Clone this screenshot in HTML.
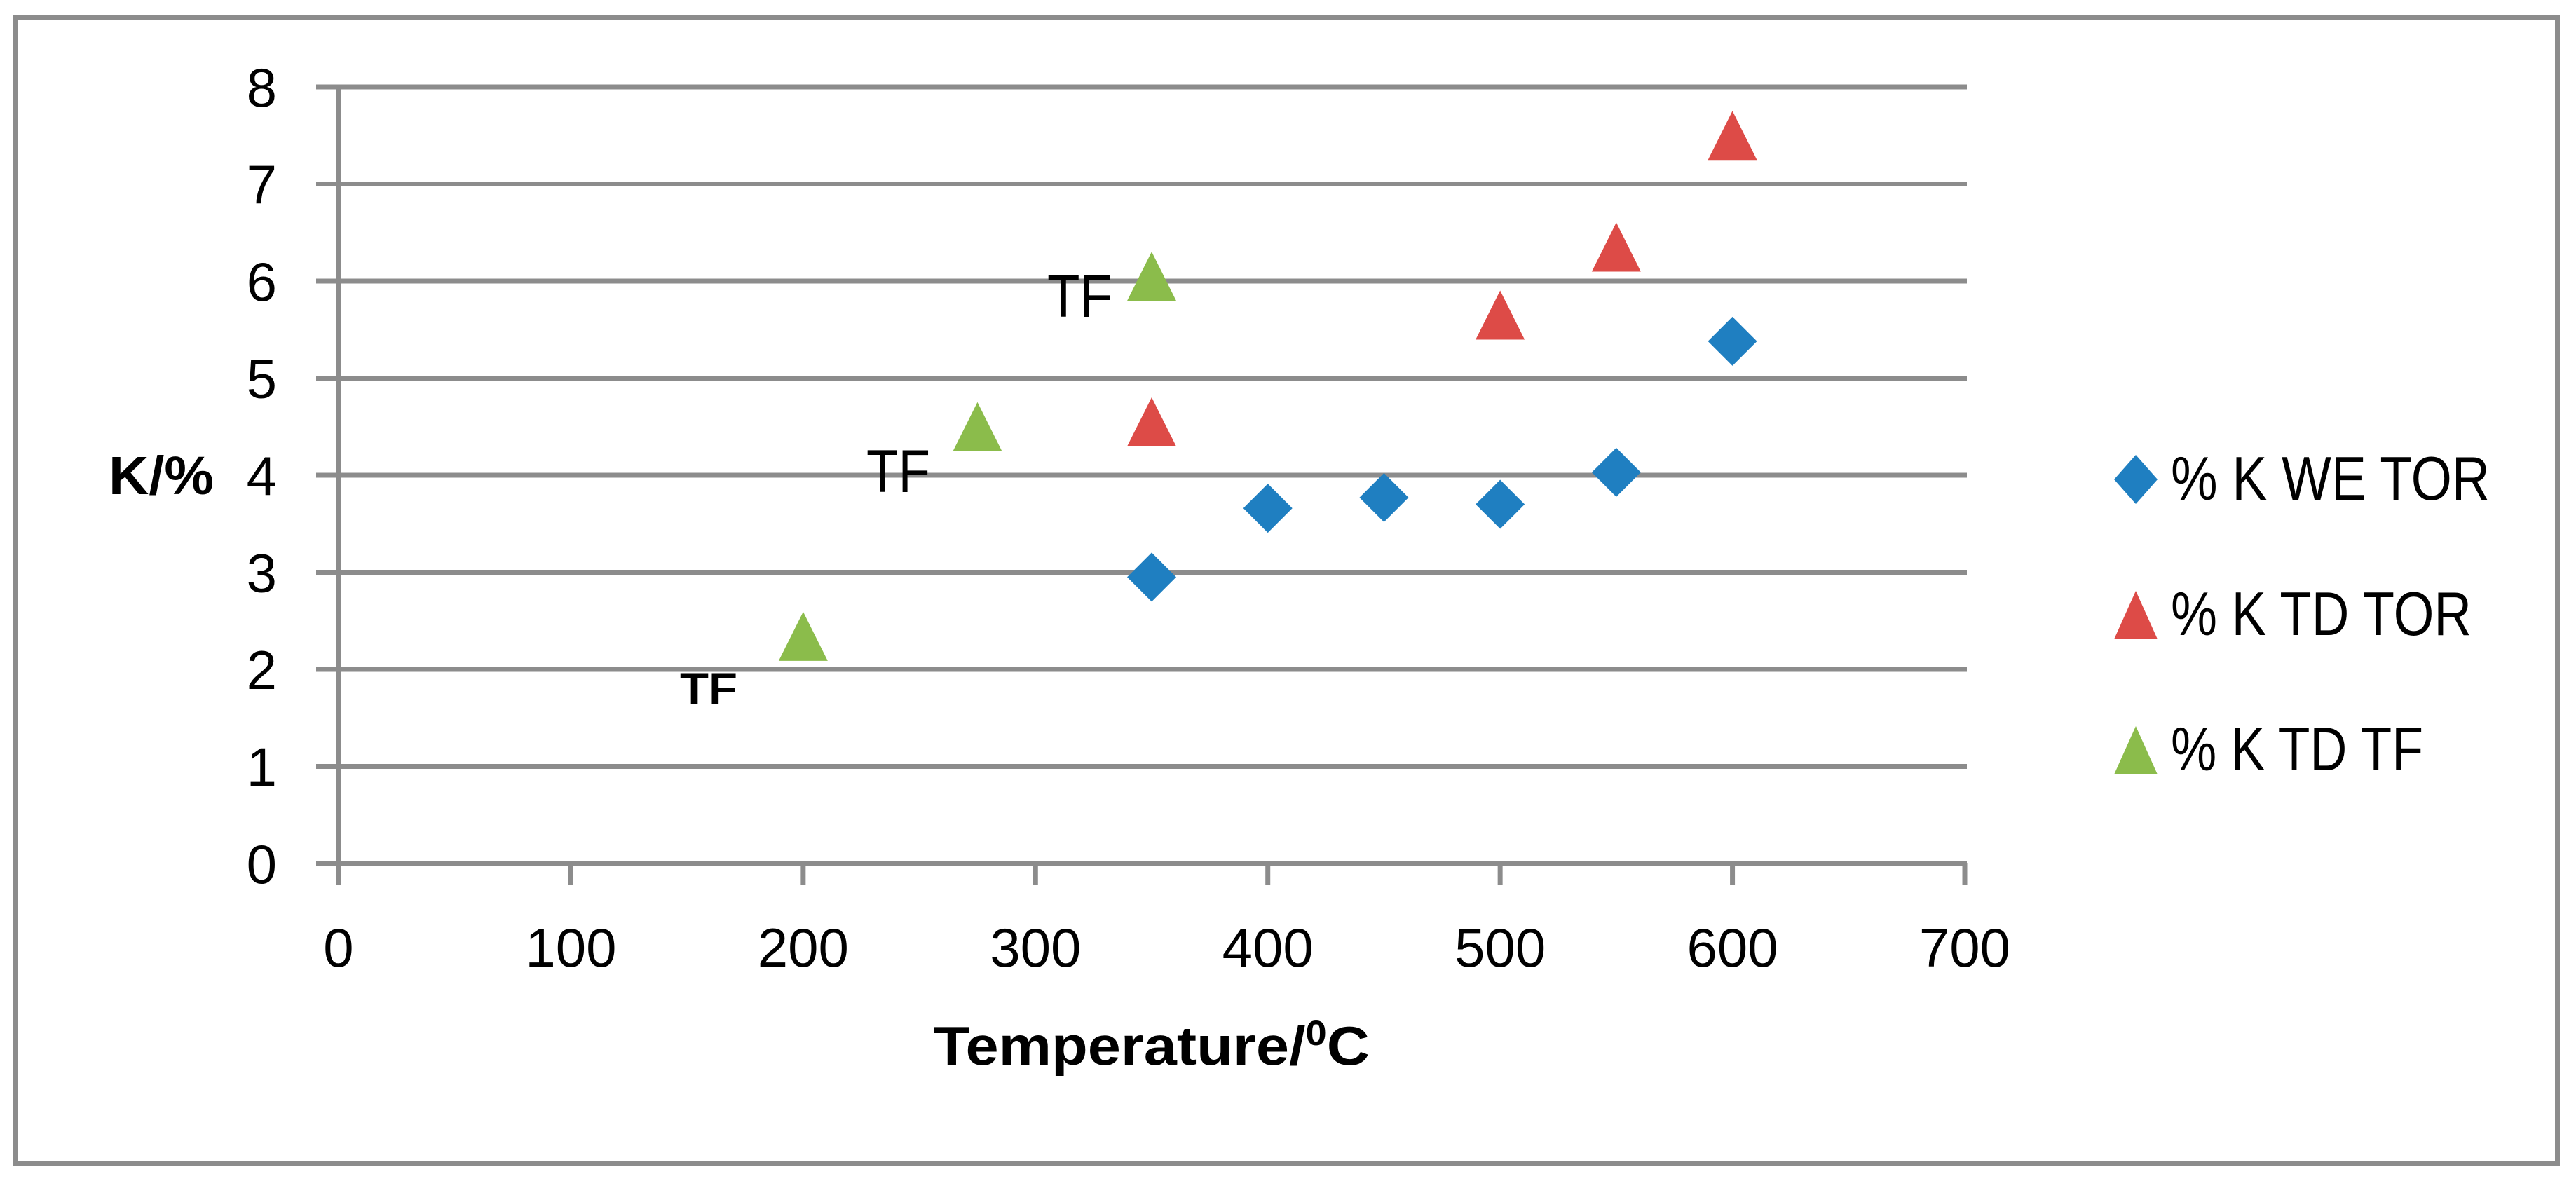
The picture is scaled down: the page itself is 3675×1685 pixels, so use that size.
<!DOCTYPE html>
<html><head><meta charset="utf-8"><style>
html,body{margin:0;padding:0;background:#fff;}
svg{display:block;}
text{font-family:"Liberation Sans",sans-serif;fill:#000;}
</style></head><body>
<svg id="chart" width="3675" height="1685" viewBox="0 0 3675 1685" xmlns="http://www.w3.org/2000/svg">
<rect x="22.5" y="24.5" width="3626" height="1636" fill="#fff" stroke="#8c8c8c" stroke-width="7"/>
<g id="grid"></g>
<g id="axes"></g>
<g id="marks"></g>
<text x="155" y="705" font-size="77" font-weight="bold" textLength="150" lengthAdjust="spacingAndGlyphs">K/%</text>
<text x="1332" y="1519" font-size="78" font-weight="bold" textLength="622" lengthAdjust="spacingAndGlyphs">Temperature/<tspan font-size="50" dy="-28">0</tspan><tspan dy="28">C</tspan></text>
<text x="1494" y="452" font-size="86" textLength="93" lengthAdjust="spacingAndGlyphs">TF</text>
<text x="1236" y="702" font-size="86" textLength="91" lengthAdjust="spacingAndGlyphs">TF</text>
<text x="970" y="1004" font-size="63" font-weight="bold" fill="#222" textLength="82" lengthAdjust="spacingAndGlyphs">TF</text>
<g>
  <polygon points="3047,649 3078,684 3047,719 3016,684" fill="#1f7fc1"/>
  <text x="3097" y="713" font-size="88" textLength="455" lengthAdjust="spacingAndGlyphs">% K WE TOR</text>
  <polygon points="3047,843 3078,912 3016,912" fill="#dd4b47"/>
  <text x="3097" y="906" font-size="88" textLength="429" lengthAdjust="spacingAndGlyphs">% K TD TOR</text>
  <polygon points="3047,1036 3078,1105 3016,1105" fill="#8bbc4b"/>
  <text x="3097" y="1099" font-size="88" textLength="360" lengthAdjust="spacingAndGlyphs">% K TD TF</text>
</g>
</svg>
<script>
const xTicks = [0,100,200,300,400,500,600,700];
const yTicks = [0,1,2,3,4,5,6,7,8];
const weTorX = [350,400,450,500,550,600];
const weTorY = [2.95,3.66,3.77,3.70,4.03,5.38];
const tdTorX = [350,500,550,600];
const tdTorY = [4.55,5.65,6.35,7.5];
const tdTfX = [200,275,350];
const tdTfY = [2.34,4.5,6.05];

const NS='http://www.w3.org/2000/svg';
function sx(v){return 483+(v-0)*(2803-483)/700;}
function sy(v){return 1232-(v-0)*(1232-124)/8;}
function mk(tag,attrs,parent){const e=document.createElementNS(NS,tag);for(const k in attrs)e.setAttribute(k,attrs[k]);parent.appendChild(e);return e;}
const grid=document.getElementById('grid'),axes=document.getElementById('axes'),marks=document.getElementById('marks');
const GC='#8c8c8c';
yTicks.forEach(t=>{
  const l=mk('line',{x1:451,x2:sx(700)+3,y1:sy(t),y2:sy(t),stroke:GC,'stroke-width':7},grid);
  
  
  const tx=mk('text',{x:395,y:sy(t)+28,'font-size':78,'text-anchor':'end'},axes);
  tx.textContent=t;
  
  
});
const ya=mk('line',{x1:sx(0),x2:sx(0),y1:sy(8)-3,y2:1263,stroke:GC,'stroke-width':7},axes);


xTicks.forEach(t=>{
  const l=mk('line',{x1:sx(t),x2:sx(t),y1:sy(0),y2:1263,stroke:GC,'stroke-width':7},axes);
  
  
  const tx=mk('text',{x:sx(t),y:1379,'font-size':78,'text-anchor':'middle'},axes);
  tx.textContent=t;
  
  
});
weTorX.forEach((x,i)=>{
  const cx=sx(x),cy=sy(weTorY[i]);
  const p=mk('polygon',{points:`${cx},${cy-35} ${cx+35},${cy} ${cx},${cy+35} ${cx-35},${cy}`,fill:'#1f7fc1'},marks);
  
  
});
function tri(xs,ys,color,name){
  xs.forEach((x,i)=>{
    const cx=sx(x),cy=sy(ys[i]);
    const p=mk('polygon',{points:`${cx},${cy-35} ${cx+35},${cy+35} ${cx-35},${cy+35}`,fill:color},marks);
    
    
  });
}
tri(tdTorX,tdTorY,'#dd4b47','point-td-tor');
tri(tdTfX,tdTfY,'#8bbc4b','point-td-tf');
</script>
</body></html>
